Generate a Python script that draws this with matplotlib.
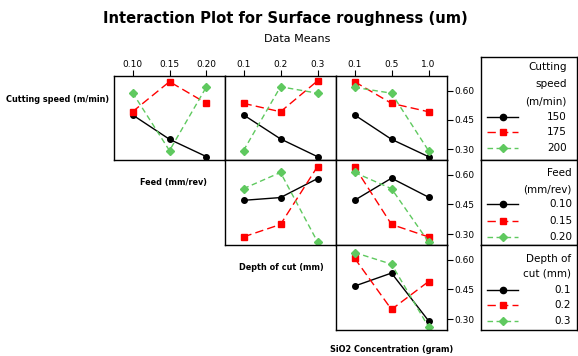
import matplotlib
matplotlib.use("Agg")
import matplotlib.pyplot as plt
from matplotlib.lines import Line2D

# =========================
# DATOS (medias)
# =========================

factor_names = ["Cutting speed (m/min)", "Feed (mm/rev)", "Depth of cut (mm)", "SiO2 Concentration (gram)"]
legend_titles = ["Cutting\nspeed\n(m/min)", "Feed\n(mm/rev)", "Depth of\ncut (mm)"]

speed_levels = ["150", "175", "200"]
feed_levels = ["0.10", "0.15", "0.20"]
depth_levels = ["0.1", "0.2", "0.3"]
sio2_levels = ["0.1", "0.5", "1.0"]

# fila = nivel del factor de traza, columna = nivel del factor en x
speed_x_feed = [[0.476, 0.351, 0.262], [0.492, 0.646, 0.535], [0.590, 0.293, 0.620]]
speed_x_depth = [[0.476, 0.353, 0.262], [0.535, 0.492, 0.650], [0.293, 0.620, 0.587]]
speed_x_sio2 = [[0.476, 0.351, 0.262], [0.646, 0.535, 0.492], [0.617, 0.587, 0.293]]
feed_x_depth = [[0.471, 0.485, 0.581], [0.286, 0.349, 0.642], [0.530, 0.612, 0.261]]
feed_x_sio2 = [[0.471, 0.583, 0.487], [0.641, 0.349, 0.286], [0.612, 0.530, 0.261]]
depth_x_sio2 = [[0.467, 0.533, 0.292], [0.609, 0.349, 0.490], [0.637, 0.578, 0.261]]

y_ticks = [0.30, 0.45, 0.60]

# =========================
# ESTILO / LAYOUT (pixeles)
# =========================

W, H = 578, 356
COL_EDGES = [114, 225, 336, 447]
ROW_EDGES = [76, 160, 245, 330]
GREEN = "#5fc95f"
STYLES = [
    dict(color="black", linestyle="-", marker="o", markersize=4),
    dict(color="red", linestyle=(0, (6, 3)), marker="s", markersize=4),
    dict(color=GREEN, linestyle=(0, (4, 2.5)), marker="D", markersize=4),
]
LEGEND_MS = [4.5, 5, 4.5]

levels = [speed_levels, feed_levels, depth_levels, sio2_levels]
panels = {
    (0, 0): speed_x_feed, (0, 1): speed_x_depth, (0, 2): speed_x_sio2,
    (1, 1): feed_x_depth, (1, 2): feed_x_sio2,
    (2, 2): depth_x_sio2,
}

fig = plt.figure(figsize=(W / 100, H / 100), dpi=100)


def px_axes(x0, y0, x1, y1):
    return fig.add_axes([x0 / W, 1 - y1 / H, (x1 - x0) / W, (y1 - y0) / H])


for (r, c), means in panels.items():
    ax = px_axes(COL_EDGES[c], ROW_EDGES[r], COL_EDGES[c + 1], ROW_EDGES[r + 1])
    x_levels = levels[c + 1]
    xs = list(range(len(x_levels)))
    for k, row in enumerate(means):
        ax.plot(xs, row, linewidth=1, **STYLES[k])
    ax.set_xlim(-0.5, 2.5)
    ax.set_ylim(0.245, 0.675)
    for s in ax.spines.values():
        s.set_linewidth(1)
    ax.tick_params(labelsize=6.5, length=4, width=0.8, direction="out", pad=1)
    if r == 0:
        ax.xaxis.tick_top()
        ax.set_xticks(xs)
        ax.set_xticklabels(x_levels)
    else:
        ax.set_xticks([])
    if c == 2:
        ax.yaxis.tick_right()
        ax.set_yticks(y_ticks)
        ax.set_yticklabels([f"{v:.2f}" for v in y_ticks])
    else:
        ax.set_yticks([])

# etiquetas de factores en la diagonal
label_pos = [(58, 99), (173, 183), (281, 267), (392, 350)]
for name, (x, y) in zip(factor_names, label_pos):
    fig.text(x / W, 1 - y / H, name, ha="center", va="center", fontsize=5.9, fontweight="bold")

# leyendas
legend_boxes = [(57, 160), (160, 245), (245, 330)]
legend_title_y = [[67, 84, 101], [173, 189], [259, 274]]
legend_entry_y = [[117, 132, 148], [204, 220.5, 237], [290, 305, 321]]
legend_text_x = [567, 572, 571]
for i, (y0, y1) in enumerate(legend_boxes):
    lax = px_axes(481, y0, 577, y1)
    lax.set_xticks([])
    lax.set_yticks([])
    lax.set_xlim(481, 577)
    lax.set_ylim(y1, y0)
    for s in lax.spines.values():
        s.set_linewidth(1)
    for line, ty in zip(legend_titles[i].split("\n"), legend_title_y[i]):
        lax.text(legend_text_x[i], ty, line, ha="right", va="center", fontsize=7.5)
    for k, (lab, ey) in enumerate(zip(levels[i], legend_entry_y[i])):
        lax.add_line(Line2D([487, 518], [ey, ey], linewidth=1, **{**STYLES[k], "marker": None}))
        lax.add_line(Line2D([502.5], [ey], linestyle="none", marker=STYLES[k]["marker"],
                            markersize=LEGEND_MS[k], color=STYLES[k]["color"]))
        lax.text(legend_text_x[i], ey, lab, ha="right", va="center", fontsize=7.5)

fig.text(285 / W, 1 - 18 / H, "Interaction Plot for Surface roughness (um)",
         ha="center", va="center", fontsize=10.6, fontweight="bold")
fig.text(297 / W, 1 - 39 / H, "Data Means", ha="center", va="center", fontsize=8)

fig.savefig("out.png", dpi=100)
